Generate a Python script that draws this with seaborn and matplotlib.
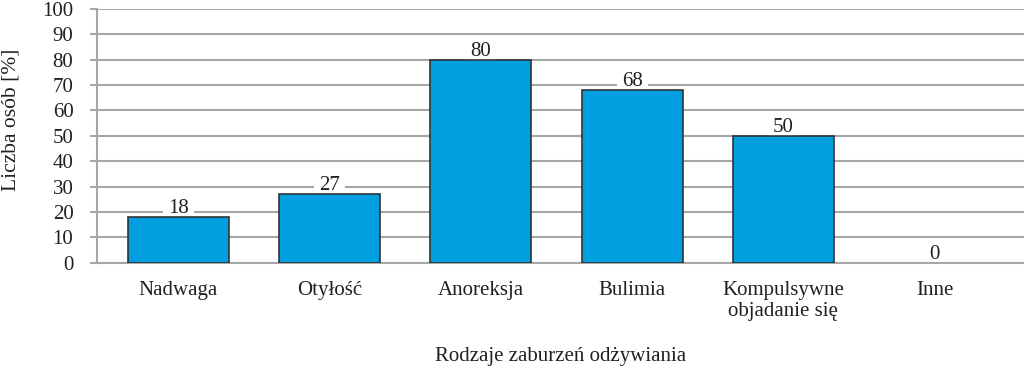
import matplotlib
matplotlib.use("Agg")
import matplotlib.pyplot as plt
import seaborn as sns
import pandas as pd

categories = ["Nadwaga", "Otyłość", "Anoreksja", "Bulimia", "Kompulsywne\nobjadanie się", "Inne"]
values = [18, 27, 80, 68, 50, 0]
yticks = [0, 10, 20, 30, 40, 50, 60, 70, 80, 90, 100]

sns.set_theme(style="white")
plt.rcParams['font.family'] = ['Liberation Serif', 'DejaVu Serif']

df = pd.DataFrame({"cat": categories, "val": values})

fig = plt.figure(figsize=(10.24, 3.68), dpi=100)
ax = fig.add_axes([97/1024, 1 - 262.7/368, 1 - 97/1024, (262.7 - 9)/368])

sns.barplot(data=df, x="cat", y="val", ax=ax, color="#009FE0", saturation=1,
            width=0.667, edgecolor="#333333", linewidth=1.2, zorder=3)
for p in ax.patches:
    if p.get_height() == 0:
        p.set_linewidth(0)

grid_c = "#A6A6A6"
text_c = "#231F20"
ax.set_ylim(0, 100)
ax.set_yticks(yticks)
ax.set_xlim(-0.537, 5.59)
ax.yaxis.grid(True, color=grid_c, linewidth=1.5, zorder=0)
ax.set_axisbelow(True)
for s in ["top", "right"]:
    ax.spines[s].set_visible(False)
for s in ["left", "bottom"]:
    ax.spines[s].set_color(grid_c)
    ax.spines[s].set_linewidth(1.5)
ax.tick_params(axis="y", which="both", left=True, length=5, width=1.5, color=grid_c,
               labelsize=15, labelcolor=text_c, pad=12)
ax.tick_params(axis="x", bottom=False, labelsize=15, labelcolor=text_c, pad=7.5)
for lbl in ax.get_xticklabels():
    lbl.set_linespacing(1.1)

ax.set_xlabel("Rodzaje zaburzeń odżywiania", fontsize=15, color=text_c, labelpad=19)
ax.set_ylabel("Liczba osób [%]", fontsize=15.5, color=text_c)
ax.yaxis.set_label_coords(-0.082, 0.563)

for i, v in enumerate(values):
    ax.annotate(str(v), xy=(i, v), xytext=(0, 3), textcoords="offset points",
                ha="center", va="baseline", fontsize=15, color=text_c, zorder=2,
                bbox=dict(boxstyle="square,pad=0.25", facecolor="white", edgecolor="none"))

fig.savefig("out.png", dpi=100)
